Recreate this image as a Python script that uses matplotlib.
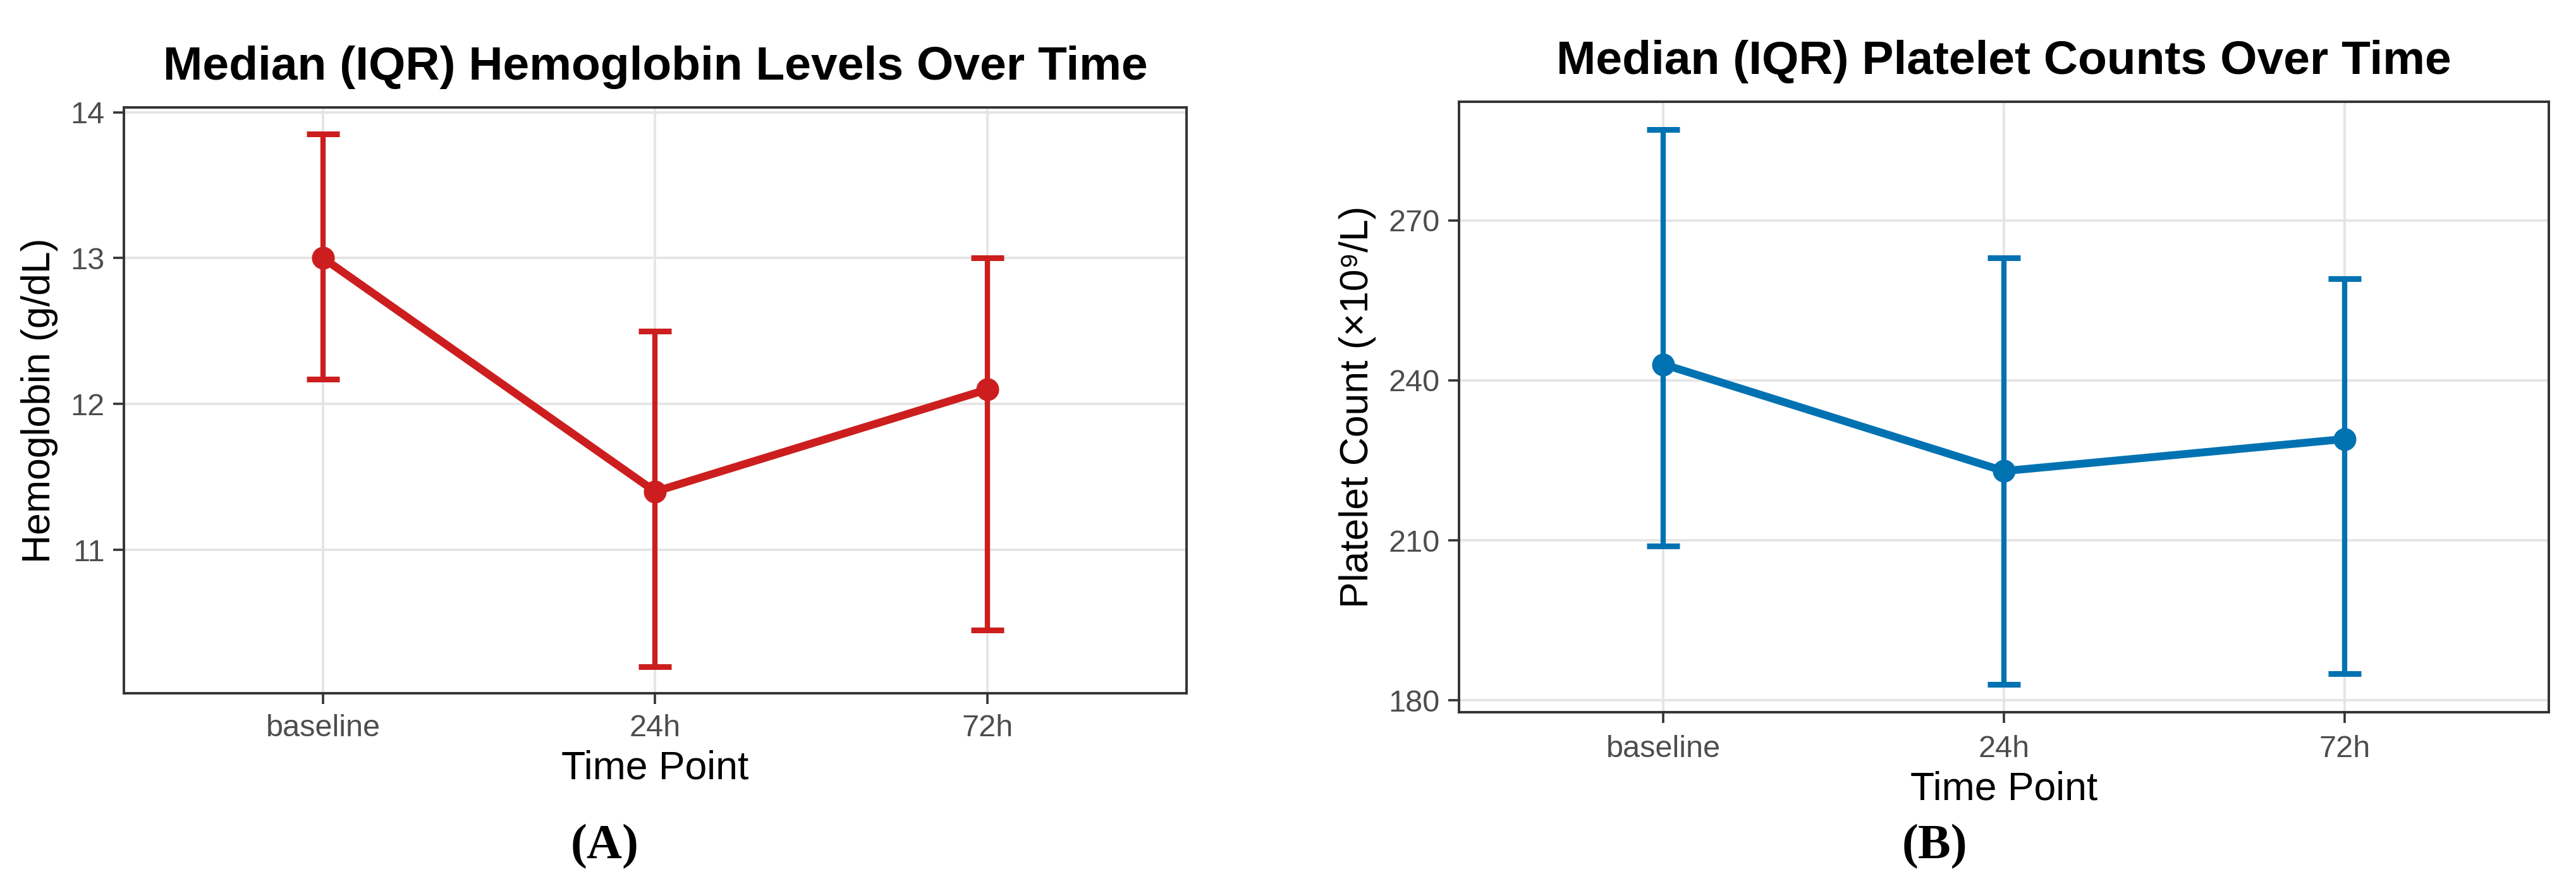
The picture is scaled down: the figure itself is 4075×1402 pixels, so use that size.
import matplotlib.pyplot as plt

timepoints = ["baseline", "24h", "72h"]

hb_median = [13.0, 11.4, 12.1]
hb_q1 = [12.17, 10.2, 10.45]
hb_q3 = [13.85, 12.5, 13.0]

plt_median = [243, 223, 229]
plt_q1 = [209, 183, 185]
plt_q3 = [287, 263, 259]

red = "#CC1E1E"
blue = "#0072B2"

plt.rcParams["font.family"] = ["Liberation Sans", "DejaVu Sans"]

fig = plt.figure(figsize=(40.75, 14.02), dpi=100)
ax1 = fig.add_axes([0.0481, 0.2175, 0.4125, 0.6612])
ax2 = fig.add_axes([0.5664, 0.1961, 0.4231, 0.6890])


def panel(ax, med, q1, q3, color, title, ylabel, yticks, xpad):
    x = list(range(len(timepoints)))
    lo = [m - a for m, a in zip(med, q1)]
    hi = [b - m for m, b in zip(med, q3)]
    ax.plot(x, med, color=color, lw=9, zorder=3)
    ax.errorbar(x, med, yerr=[lo, hi], fmt="none", ecolor=color,
                elinewidth=6, capsize=19, capthick=6.5, zorder=4)
    ax.plot(x, med, "o", color=color, ms=25, zorder=5)

    ax.set_xlim(-0.6, len(timepoints) - 0.4)
    rng = max(q3) - min(q1)
    ax.set_ylim(min(q1) - 0.05 * rng, max(q3) + 0.05 * rng)
    ax.set_xticks(x)
    ax.set_xticklabels(timepoints)
    ax.set_yticks(yticks)

    ax.grid(True, color="#E5E5E5", lw=2.8, zorder=0)
    ax.set_axisbelow(True)
    for s in ax.spines.values():
        s.set_color("#333333")
        s.set_linewidth(2.8)
    ax.tick_params(axis="both", length=12, width=2.6, color="#333333",
                   labelsize=35, labelcolor="#4D4D4D", pad=10)
    ax.tick_params(axis="x", pad=xpad)

    ax.set_title(title, fontsize=54, fontweight="bold", pad=32)
    ax.set_xlabel("Time Point", fontsize=45, labelpad=8)
    ax.set_ylabel(ylabel, fontsize=45, labelpad=14)


panel(ax1, hb_median, hb_q1, hb_q3, red,
      "Median (IQR) Hemoglobin Levels Over Time", "Hemoglobin (g/dL)",
      [11, 12, 13, 14], 12)
panel(ax2, plt_median, plt_q1, plt_q3, blue,
      "Median (IQR) Platelet Counts Over Time", "Platelet Count (×10⁹/L)",
      [180, 210, 240, 270], 14)

fig.text(957 / 4075, 1 - 1340 / 1402, "(A)", ha="center", va="center",
         fontsize=56, fontweight="bold", family="Liberation Serif")
fig.text(3060 / 4075, 1 - 1340 / 1402, "(B)", ha="center", va="center",
         fontsize=56, fontweight="bold", family="Liberation Serif")

fig.savefig("out.png", dpi=100, facecolor="white")
